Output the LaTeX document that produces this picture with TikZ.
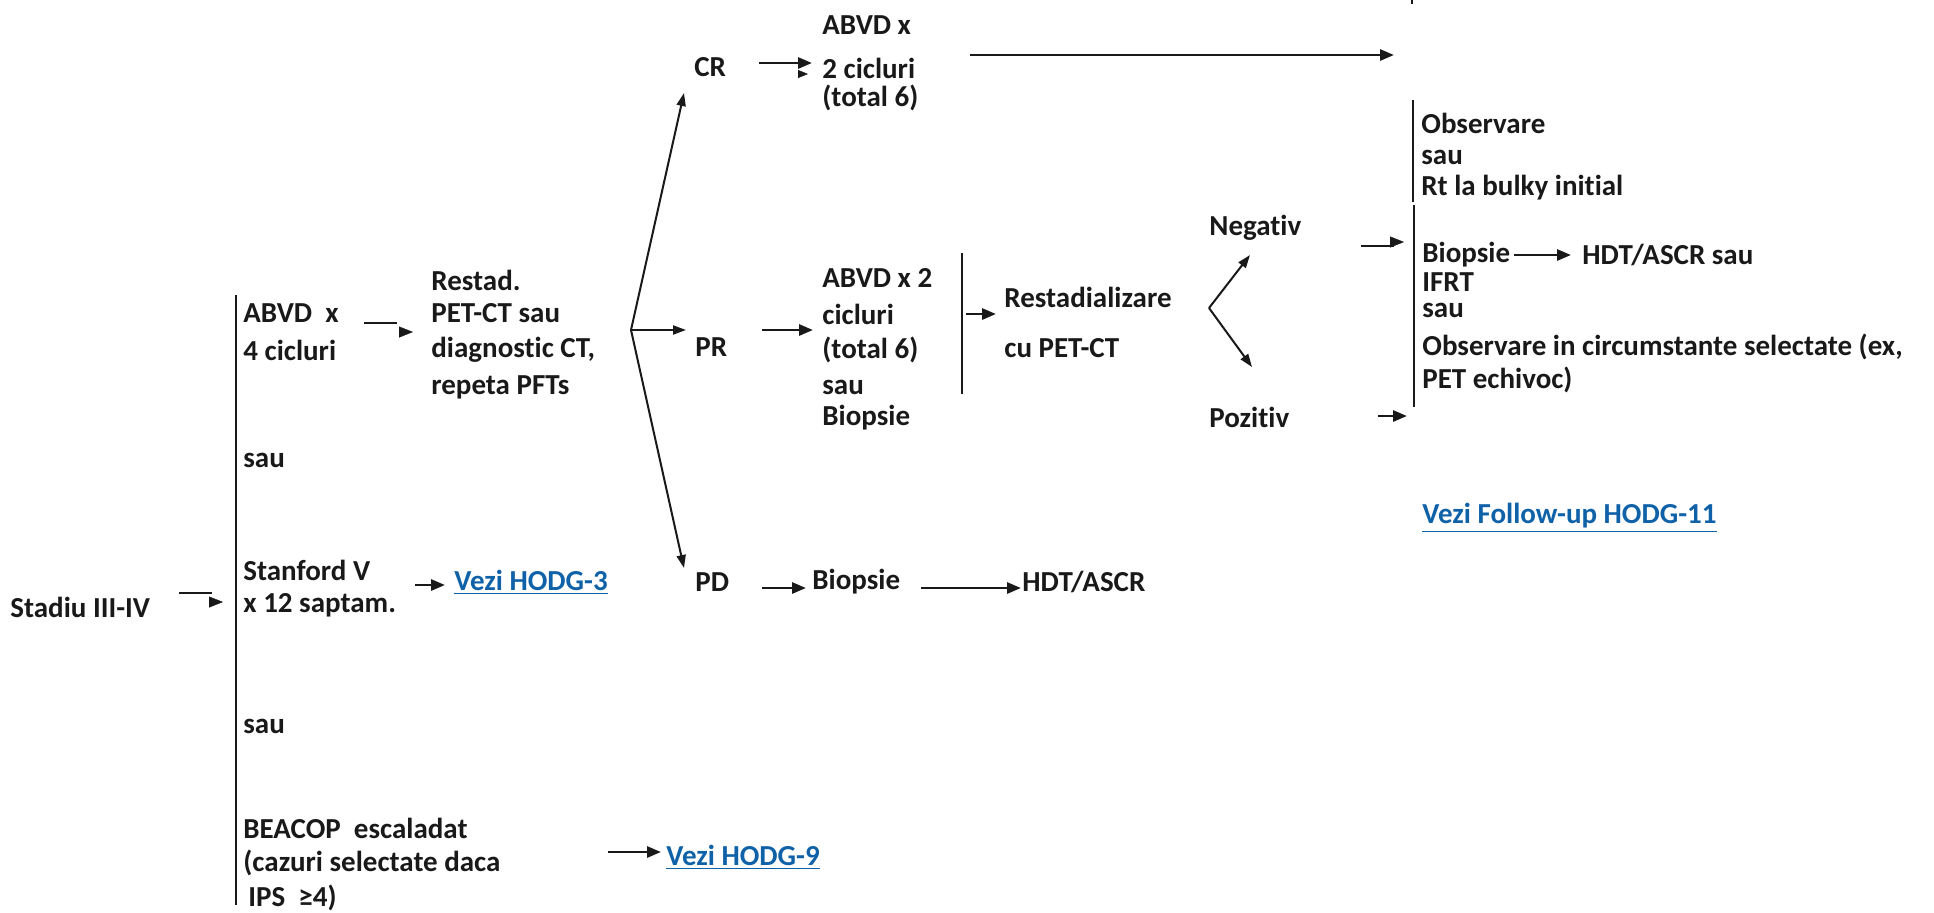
\documentclass[tikz,border=0pt]{standalone}
\usepackage{fontspec}
\setmainfont{Carlito}[Ligatures={NoCommon,NoContextual},RawFeature={-liga;-clig;-calt;-dlig}]
\usetikzlibrary{arrows.meta}
\definecolor{ink}{RGB}{25,25,25}
\definecolor{linkblue}{RGB}{16,98,168}
\begin{document}
\begin{tikzpicture}[x=0.5pt,y=-0.5pt,
  txt/.style={anchor=west,inner sep=0pt,font=\fontsize{14.5}{17}\selectfont\bfseries,text=ink},
  lnk/.style={txt,text=linkblue},
  bar/.style={draw=ink,line width=1.4pt},
  arr/.style={draw=ink,line width=1.4pt,-{Triangle[length=7pt,width=5.5pt]}},
  shaft/.style={draw=ink,line width=1.4pt},
  head/.style={draw=ink,line width=0.2pt,-{Triangle[length=7pt,width=5.5pt]}},
  smallhead/.style={draw=ink,line width=0.2pt,-{Triangle[length=5pt,width=4pt]}},
  branch/.style={draw=ink,line width=1pt,-{Triangle[length=6.5pt,width=4.5pt]}}]
\useasboundingbox (0,0) rectangle (1934,912);

% ---------- texts ----------
\node[txt] (stadiu) at (10,607) {Stadiu III-IV};
\node[txt] (abvd1) at (243,313) {ABVD\ \ x};
\node[txt] (cic1) at (243,350) {4 cicluri};
\node[txt] (sau1) at (243,460) {sau};
\node[txt] (stan) at (243,570) {Stanford V};
\node[txt] (x12) at (243,605) {x 12 saptam.};
\node[txt] (sau2) at (243,726) {sau};
\node[txt] (beacop) at (243,828) {BEACOP\ \ escaladat};
\node[txt] (caz) at (243,863) {(cazuri selectate daca};
\node[txt] (ips) at (248,898) {IPS\ \ ≥4)};

\node[txt] (restad) at (431,280) {Restad.};
\node[txt] (pet) at (431,313) {PET-CT sau};
\node[txt] (diag) at (431,350) {diagnostic CT,};
\node[txt] (rep) at (431,387) {repeta PFTs};

\node[lnk] (hodg3) at (454,582) {\underline{Vezi HODG-3}};
\node[lnk] (hodg9) at (666,857) {\underline{Vezi HODG-9}};

\node[txt] (cr) at (694,67) {CR};
\node[txt] (pr) at (695,347) {PR};
\node[txt] (pd) at (695,582) {PD};

\node[txt] (crA) at (822,25) {ABVD x};
\node[txt] (crB) at (822,68) {2 cicluri};
\node[txt] (crC) at (822,98) {(total 6)};

\node[txt] (prA) at (822,278) {ABVD x 2};
\node[txt] (prB) at (822,314) {cicluri};
\node[txt] (prC) at (822,350) {(total 6)};
\node[txt] (prD) at (822,387) {sau};
\node[txt] (prE) at (822,418) {Biopsie};

\node[txt] (pdbio) at (812,582) {Biopsie};
\node[txt] (pdhdt) at (1022,582) {HDT/ASCR};

\node[txt] (restA) at (1004,297) {Restadializare};
\node[txt] (restB) at (1004,348) {cu PET-CT};

\node[txt] (neg) at (1209,228) {Negativ};
\node[txt] (poz) at (1209,417) {Pozitiv};

\node[txt] (obs) at (1421,123) {Observare};
\node[txt] (obsS) at (1421,157) {sau};
\node[txt] (obsR) at (1421,188) {Rt la bulky initial};

\node[txt] (bio2) at (1422,255) {Biopsie};
\node[txt] (hdt2) at (1582,255) {HDT/ASCR sau};
\node[txt] (ifrt) at (1422,282) {IFRT};
\node[txt] (sau3) at (1422,310) {sau};
\node[txt] (obsc) at (1422,347) {Observare in circumstante selectate (ex,};
\node[txt] (pete) at (1422,380) {PET echivoc)};

\node[lnk] (hodg11) at (1422,518) {\underline{Vezi Follow-up HODG-11}};

% ---------- bars ----------
\coordinate (b1t) at (236,295); \coordinate (b1b) at (236,905);
\coordinate (b2t) at (962,253); \coordinate (b2b) at (962,394);
\coordinate (b3t) at (1413,100); \coordinate (b3m) at (1413,202);
\coordinate (b4t) at (1414,205); \coordinate (b4b) at (1414,407);
\coordinate (tkt) at (1412,0); \coordinate (tkb) at (1412,4);
\draw[bar] (b1t) -- (b1b);
\draw[bar] (b2t) -- (b2b);
\draw[bar] (b3t) -- (b3m);
\draw[bar] (b4t) -- (b4b);
\draw[bar] (tkt) -- (tkb);

% ---------- arrows ----------
% Stadiu -> bar (offset head)
\coordinate (s1) at (179,593); \coordinate (s2) at (212,593);
\coordinate (s3) at (209,602); \coordinate (s4) at (223,602);
\draw[shaft] (s1) -- (s2);
\draw[head] (s3) -- (s4);

% ABVD x 4 -> Restad (offset head)
\coordinate (a1) at (364,323); \coordinate (a2) at (397,323);
\coordinate (a3) at (399,332); \coordinate (a4) at (413,332);
\draw[shaft] (a1) -- (a2);
\draw[head] (a3) -- (a4);

% Stanford -> HODG-3
\coordinate (h3a) at (415,585); \coordinate (h3b) at (445,585);
\draw[arr] (h3a) -- (h3b);

% BEACOP -> HODG-9
\coordinate (h9a) at (608,852); \coordinate (h9b) at (661,852);
\draw[arr] (h9a) -- (h9b);

% branching
\coordinate (br) at (631,330);
\coordinate (crtip) at (684,93);
\coordinate (prtip) at (686,330);
\coordinate (pdtip) at (684,568);
\draw[branch] (br) -- (crtip);
\draw[branch] (br) -- (prtip);
\draw[branch] (br) -- (pdtip);

% CR -> ABVD (double head)
\coordinate (c1) at (759,63); \coordinate (c2) at (812,63);
\coordinate (c3) at (798,74); \coordinate (c4) at (808,74);
\draw[arr] (c1) -- (c2);
\draw[smallhead] (c3) -- (c4);

% long arrow
\coordinate (l1) at (970,55); \coordinate (l2) at (1394,55);
\draw[arr] (l1) -- (l2);

% PR -> ABVD x 2
\coordinate (p1) at (762,330); \coordinate (p2) at (813,330);
\draw[arr] (p1) -- (p2);

% bar2 -> Restadializare
\coordinate (r1) at (966,314); \coordinate (r2) at (996,314);
\draw[arr] (r1) -- (r2);

% chevron
\coordinate (chv) at (1209,308);
\coordinate (negtip) at (1250,255);
\coordinate (poztip) at (1252,367);
\draw[branch] (chv) -- (negtip);
\draw[branch] (chv) -- (poztip);

% Negativ -> (offset head)
\coordinate (n1) at (1361,246); \coordinate (n2) at (1394,246);
\coordinate (n3) at (1390,242); \coordinate (n4) at (1404,242);
\draw[shaft] (n1) -- (n2);
\draw[head] (n3) -- (n4);

% Pozitiv ->
\coordinate (z1) at (1378,416); \coordinate (z2) at (1407,416);
\draw[arr] (z1) -- (z2);

% Biopsie -> HDT/ASCR sau
\coordinate (q1) at (1514,255); \coordinate (q2) at (1571,255);
\draw[arr] (q1) -- (q2);

% PD -> Biopsie
\coordinate (d1) at (762,588); \coordinate (d2) at (806,588);
\draw[arr] (d1) -- (d2);

% Biopsie -> HDT/ASCR
\coordinate (e1) at (921,588); \coordinate (e2) at (1021,588);
\draw[arr] (e1) -- (e2);
\end{tikzpicture}
\end{document}
